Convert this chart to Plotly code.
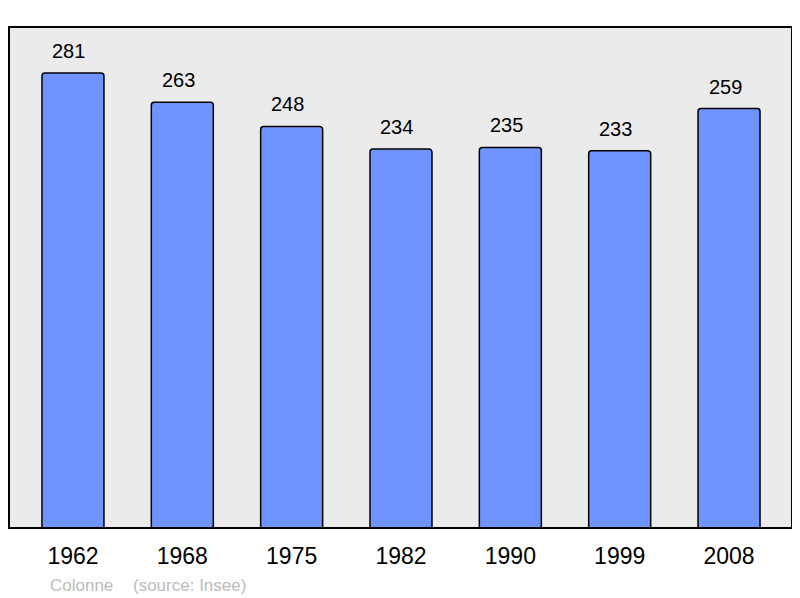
import plotly.graph_objects as go

years = ["1962", "1968", "1975", "1982", "1990", "1999", "2008"]
population = [281, 263, 248, 234, 235, 233, 259]
footer_left = "Colonne"
footer_right = "(source: Insee)"

FONT = "Liberation Sans, Arial, sans-serif"
# the page body has an 8px margin, so the figure starts at (8, 8)
W, H = 792, 590
ML, MT, MR, MB = 1, 19, 8, 70
plot_w = W - ML - MR
plot_h = H - MT - MB

fig = go.Figure()
fig.add_trace(go.Bar(
    x=list(range(len(years))), y=population, width=0.567,
    marker=dict(color="#7094ff", line=dict(color="black", width=1.5), cornerradius=3),
    hoverinfo="y",
))

for i, v in enumerate(population):
    fig.add_annotation(x=i, y=v, text=str(v), showarrow=False, yanchor="bottom",
                       yshift=9, xshift=-4, font=dict(size=20, color="black", family=FONT))

fy = -(585 - 528) / plot_h
fig.add_annotation(xref="paper", yref="paper", x=(48 - 9) / plot_w, y=fy,
                   xanchor="left", yanchor="middle", text=footer_left, showarrow=False,
                   font=dict(size=17, color="#bbbbbb", family=FONT))
fig.add_annotation(xref="paper", yref="paper", x=(131 - 9) / plot_w, y=fy,
                   xanchor="left", yanchor="middle", text=footer_right, showarrow=False,
                   font=dict(size=17, color="#bbbbbb", family=FONT))

fig.add_shape(type="rect", xref="paper", yref="paper", x0=0, x1=1, y0=0, y1=1,
              line=dict(color="black", width=2), layer="above")

fig.update_layout(
    width=W, height=H,
    margin=dict(l=ML, r=MR, t=MT, b=MB, pad=0),
    paper_bgcolor="white", plot_bgcolor="#ebebeb",
    showlegend=False,
    font=dict(family=FONT, color="black"),
    xaxis=dict(range=[-0.585, 6.576], showgrid=False, zeroline=False,
               tickmode="array", tickvals=list(range(len(years))), ticktext=years,
               ticks="", tickfont=dict(size=23, color="black", family=FONT),
               ticklabelstandoff=12, fixedrange=True),
    yaxis=dict(range=[0, 309.4], showgrid=False, zeroline=False, showticklabels=False,
               ticks="", fixedrange=True),
)

fig.write_html("out.html")
